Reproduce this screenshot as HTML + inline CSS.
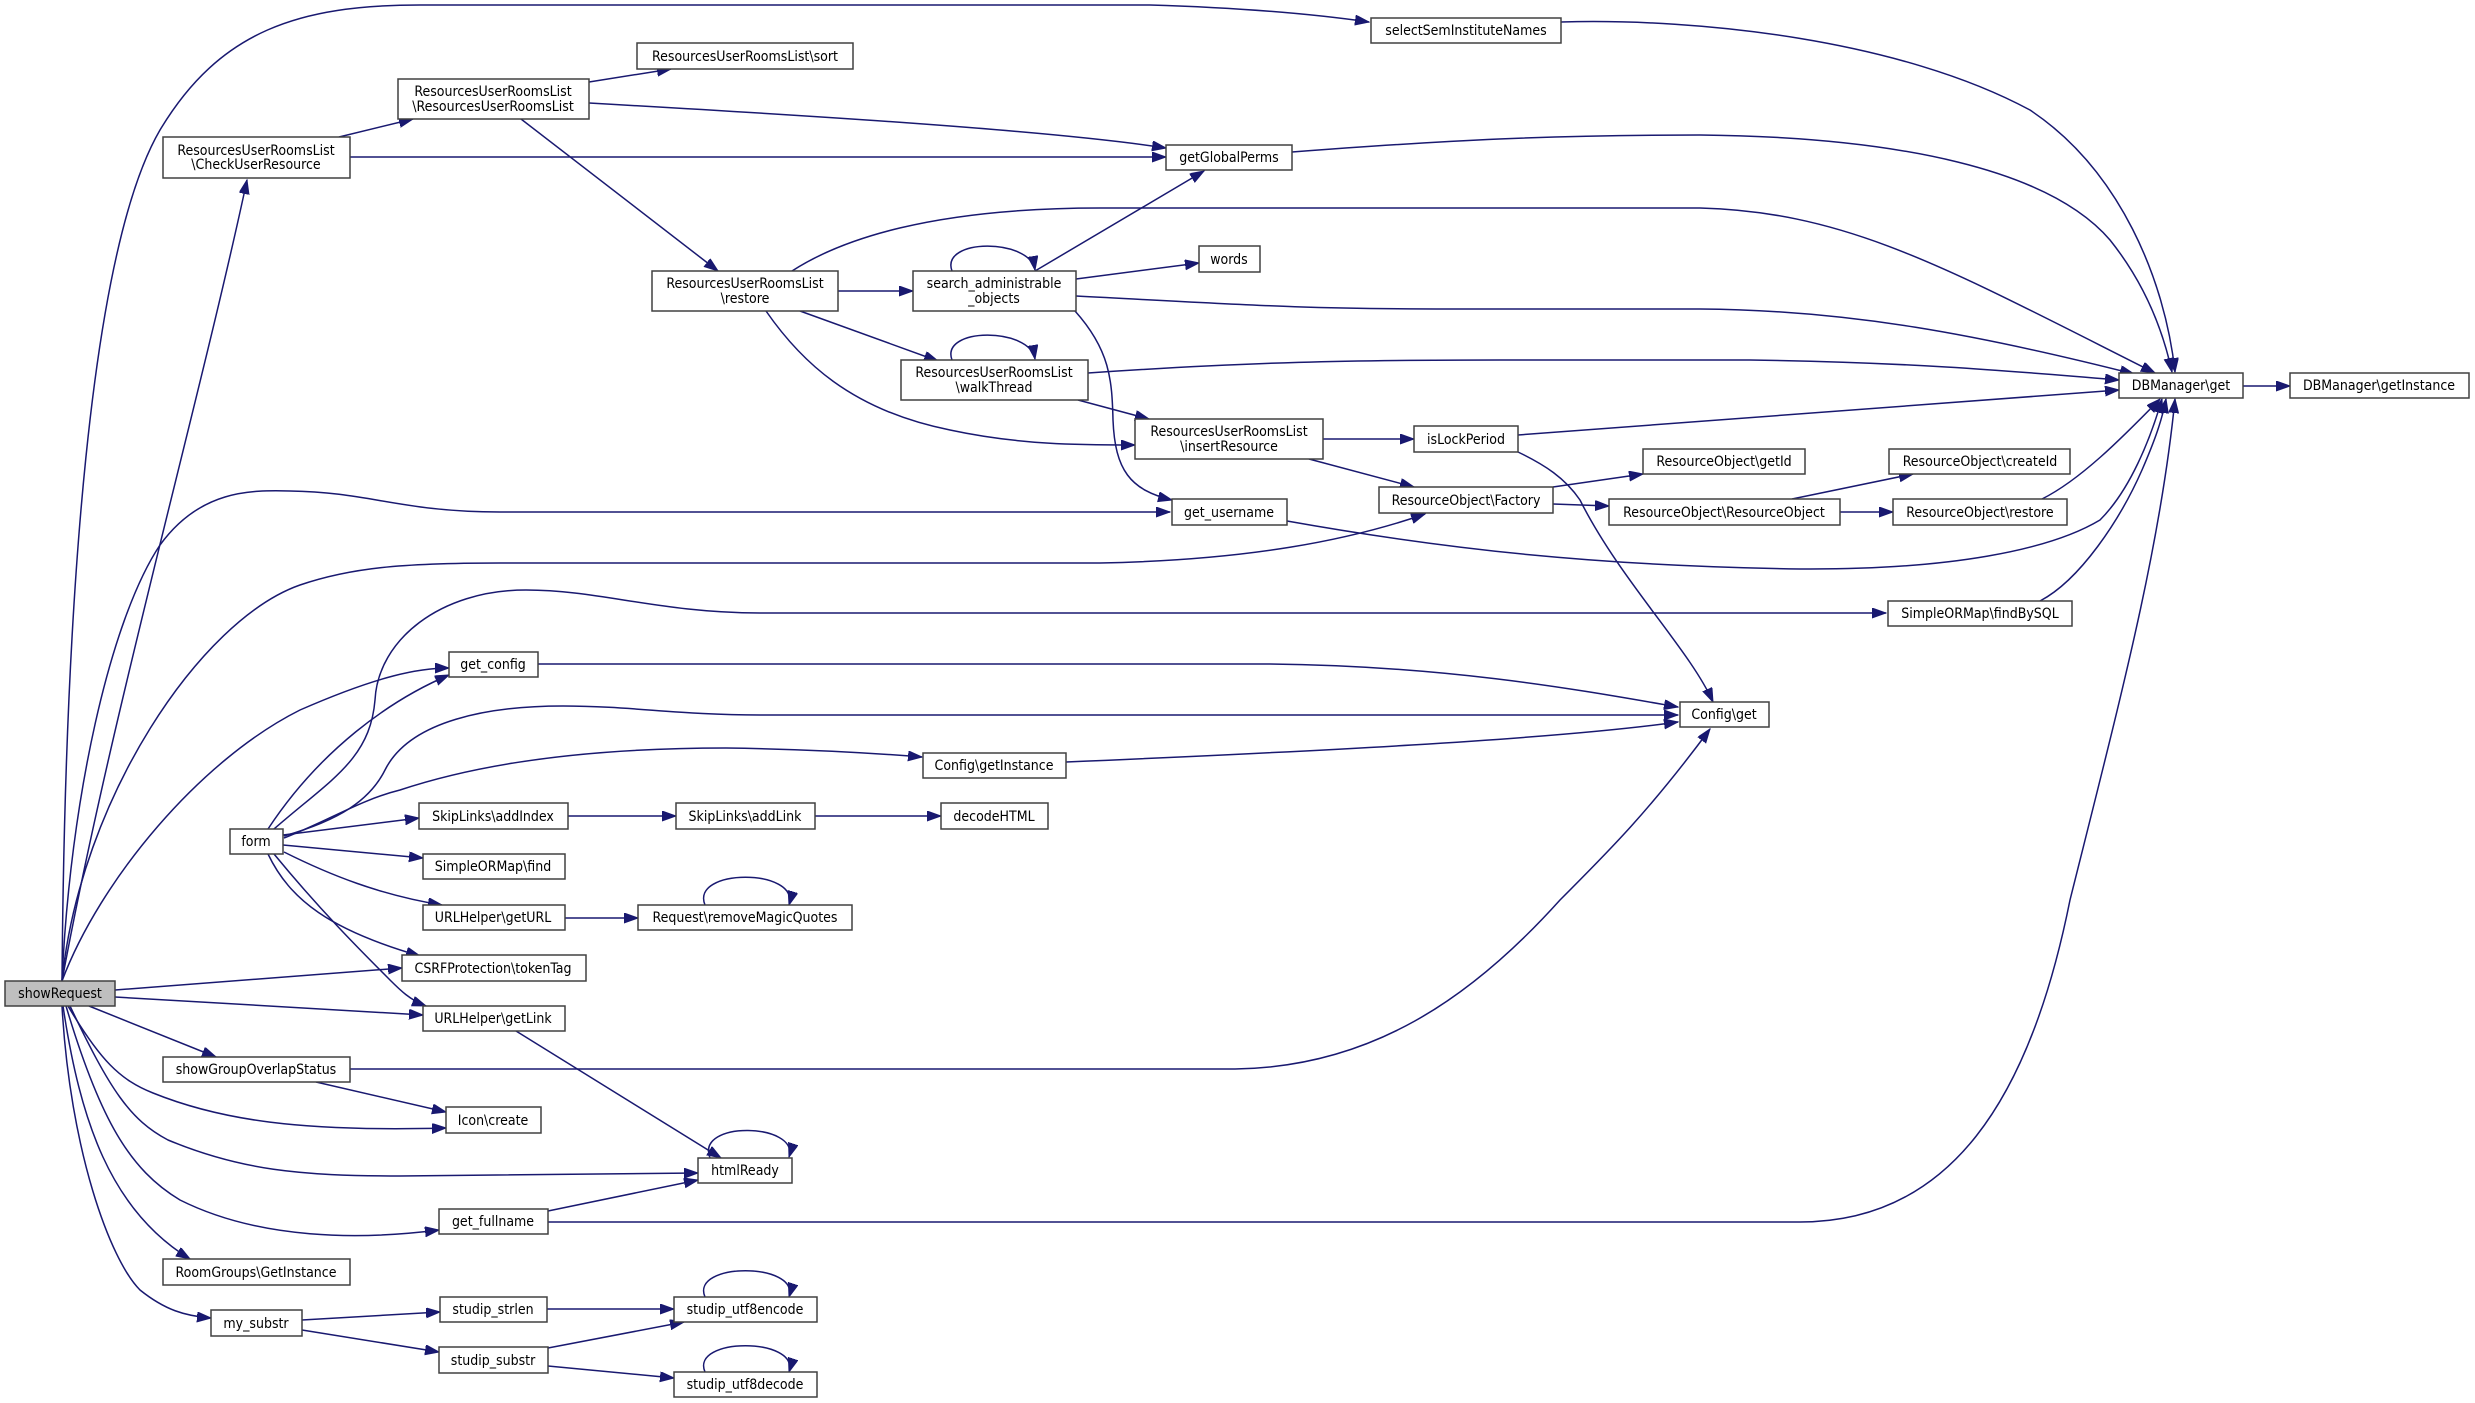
<!DOCTYPE html>
<html><head><meta charset="utf-8"><style>
html,body{margin:0;padding:0;background:#fff;}
svg{display:block;}
text{font-family:"DejaVu Sans Condensed","Liberation Sans Narrow","Liberation Sans",sans-serif;font-size:14px;fill:#000;text-anchor:middle;}
.e{fill:none;stroke:#191970;stroke-width:1.5;marker-end:url(#a);}
.l{fill:none;stroke:#191970;stroke-width:1.5;marker-end:url(#a);}
rect{fill:#fff;stroke:#404040;stroke-width:1.5;}
</style></head><body>
<svg width="2475" height="1403" viewBox="0 0 2475 1403" xmlns="http://www.w3.org/2000/svg">
<defs><marker id="a" markerUnits="userSpaceOnUse" markerWidth="15" markerHeight="11" refX="14" refY="5" orient="auto"><path d="M0,0 L14,5 L0,10 z" fill="#191970" stroke="#191970"/></marker></defs>
<g>
<path class="e" d="M62,981 C65,600 90,250 160,130 C220,30 300,5 420,5 L1150,5 C1250,8 1320,15 1369,22"/>
<path class="e" d="M62,981 C110,720 200,400 247,180"/>
<path class="e" d="M339,137 L413,119"/>
<path class="e" d="M350,157 L1166,157"/>
<path class="e" d="M589,82 L671,69"/>
<path class="e" d="M589,103 C800,115 1050,130 1166,148"/>
<path class="e" d="M521,119 L718,271"/>
<path class="e" d="M838,291 L913,291"/>
<path class="e" d="M800,311 L938,361"/>
<path class="e" d="M766,311 C800,360 850,410 950,430 C1020,445 1080,445 1135,445"/>
<path class="e" d="M792,271 C840,240 930,208 1100,208 L1700,208 C1850,212 1950,270 2155,373"/>
<path class="e" d="M952,271 C940,238 1030,238 1035,270"/>
<path class="e" d="M1035,271 L1204,171"/>
<path class="e" d="M1076,279 L1199,263"/>
<path class="e" d="M1076,296 C1250,305 1300,309 1450,309 L1700,309 C1850,310 1980,335 2134,374"/>
<path class="e" d="M1075,311 C1110,350 1112,380 1113,420 C1115,470 1130,490 1172,500"/>
<path class="e" d="M952,360 C940,327 1030,327 1035,359"/>
<path class="e" d="M1088,373 C1250,362 1350,360 1500,360 L1750,360 C1900,362 2000,370 2119,380"/>
<path class="e" d="M1078,400 L1149,419"/>
<path class="e" d="M1323,439 L1414,439"/>
<path class="e" d="M1309,459 L1414,487"/>
<path class="e" d="M1518,435 L2119,390"/>
<path class="e" d="M1518,452 C1545,465 1565,478 1580,500 C1620,580 1690,650 1713,702"/>
<path class="e" d="M1553,487 L1643,474"/>
<path class="e" d="M1553,504 L1609,506"/>
<path class="e" d="M1792,499 L1913,474"/>
<path class="e" d="M1840,512 L1893,512"/>
<path class="e" d="M2042,499 C2080,480 2120,440 2160,399"/>
<path class="e" d="M2040,601 C2080,580 2120,520 2142,470 C2155,440 2162,420 2166,399"/>
<path class="e" d="M1287,521 C1450,550 1600,566 1800,569 C1950,570 2050,550 2100,520 C2130,490 2150,440 2162,399"/>
<path class="e" d="M1292,152 C1450,140 1550,135 1700,135 C1900,137 2050,170 2110,240 C2150,290 2165,340 2172,372"/>
<path class="e" d="M1561,22 C1700,18 1900,40 2030,110 C2120,170 2165,280 2175,372"/>
<path class="e" d="M2243,386 L2290,386"/>
<path class="e" d="M62,981 C70,800 110,620 160,545 C200,490 250,490 290,491 C370,492 400,512 500,512 L1170,512"/>
<path class="e" d="M62,981 C80,800 200,620 300,585 C350,568 400,563 500,563 L1100,563 C1250,560 1350,540 1425,514"/>
<path class="e" d="M62,981 C100,880 200,760 300,710 C380,675 420,668 449,668"/>
<path class="e" d="M268,829 C320,750 390,700 449,675"/>
<path class="e" d="M274,829 C330,780 370,760 375,700 C378,640 440,590 526,590 C600,590 660,613 760,613 L1886,613"/>
<path class="e" d="M284,836 C340,820 370,800 385,770 C410,720 490,706 563,706 C630,706 680,715 760,715 L1678,715"/>
<path class="e" d="M538,664 L1270,664 C1450,666 1580,690 1678,707"/>
<path class="e" d="M284,838 C330,820 360,800 400,790 C460,770 560,748 726,748 C800,749 860,752 922,757"/>
<path class="e" d="M1066,762 C1300,752 1550,740 1678,722"/>
<path class="e" d="M283,835 L419,818"/>
<path class="e" d="M283,845 L423,858"/>
<path class="e" d="M284,852 C330,875 380,895 442,905"/>
<path class="e" d="M268,854 C290,900 330,930 420,956"/>
<path class="e" d="M274,854 C320,910 360,950 390,980 C400,990 410,1000 426,1006"/>
<path class="e" d="M568,816 L676,816"/>
<path class="e" d="M815,816 L941,816"/>
<path class="e" d="M565,918 L638,918"/>
<path class="e" d="M705,905 C690,868 800,868 789,905"/>
<path class="e" d="M115,990 L402,968"/>
<path class="e" d="M115,997 L423,1015"/>
<path class="e" d="M89,1006 L216,1057"/>
<path class="e" d="M350,1069 L1235,1069 C1370,1067 1470,1000 1560,900 C1610,850 1650,810 1710,729"/>
<path class="e" d="M316,1082 L446,1112"/>
<path class="e" d="M68,1006 C100,1060 120,1080 153,1093 C220,1120 300,1132 446,1128"/>
<path class="e" d="M70,1006 C110,1090 130,1120 168,1140 C240,1170 300,1176 400,1176 L698,1173"/>
<path class="e" d="M710,1158 C695,1120 800,1123 789,1157"/>
<path class="e" d="M516,1031 L721,1158"/>
<path class="e" d="M66,1006 C100,1120 130,1170 180,1200 C260,1240 360,1240 439,1230"/>
<path class="e" d="M548,1211 L698,1180"/>
<path class="e" d="M548,1222 L1800,1222 C1950,1222 2030,1100 2070,900 C2120,700 2160,550 2175,399"/>
<path class="e" d="M63,1006 C80,1120 110,1210 190,1259"/>
<path class="e" d="M62,1006 C70,1150 110,1260 140,1290 C165,1310 185,1316 211,1318"/>
<path class="e" d="M302,1320 L440,1312"/>
<path class="e" d="M302,1330 L439,1352"/>
<path class="e" d="M547,1309 L674,1309"/>
<path class="e" d="M548,1348 L684,1322"/>
<path class="e" d="M548,1366 L674,1378"/>
<path class="e" d="M705,1297 C690,1262 800,1262 789,1297"/>
<path class="e" d="M705,1372 C690,1337 800,1337 789,1372"/>
</g>
<g>
<rect x="5" y="981" width="110" height="25" style="fill:#bfbfbf"/><text x="60" y="998">showRequest</text>
<rect x="1371" y="18" width="190" height="25"/><text x="1466" y="35">selectSemInstituteNames</text>
<rect x="637" y="43" width="216" height="26"/><text x="745" y="61">ResourcesUserRoomsList\sort</text>
<rect x="398" y="79" width="191" height="40"/><text x="493" y="96">ResourcesUserRoomsList</text><text x="493" y="111">\ResourcesUserRoomsList</text>
<rect x="163" y="137" width="187" height="41"/><text x="256" y="155">ResourcesUserRoomsList</text><text x="256" y="169">\CheckUserResource</text>
<rect x="1166" y="145" width="126" height="25"/><text x="1229" y="162">getGlobalPerms</text>
<rect x="1199" y="246" width="61" height="26"/><text x="1229" y="264">words</text>
<rect x="652" y="271" width="186" height="40"/><text x="745" y="288">ResourcesUserRoomsList</text><text x="745" y="303">\restore</text>
<rect x="913" y="271" width="163" height="40"/><text x="994" y="288">search_administrable</text><text x="994" y="303">_objects</text>
<rect x="901" y="360" width="187" height="40"/><text x="994" y="377">ResourcesUserRoomsList</text><text x="994" y="392">\walkThread</text>
<rect x="2119" y="373" width="124" height="25"/><text x="2181" y="390">DBManager\get</text>
<rect x="2290" y="373" width="179" height="25"/><text x="2379" y="390">DBManager\getInstance</text>
<rect x="1135" y="419" width="188" height="40"/><text x="1229" y="436">ResourcesUserRoomsList</text><text x="1229" y="451">\insertResource</text>
<rect x="1414" y="426" width="104" height="26"/><text x="1466" y="444">isLockPeriod</text>
<rect x="1643" y="449" width="162" height="25"/><text x="1724" y="466">ResourceObject\getId</text>
<rect x="1889" y="449" width="181" height="25"/><text x="1980" y="466">ResourceObject\createId</text>
<rect x="1379" y="487" width="174" height="26"/><text x="1466" y="505">ResourceObject\Factory</text>
<rect x="1172" y="499" width="115" height="26"/><text x="1229" y="517">get_username</text>
<rect x="1609" y="499" width="231" height="26"/><text x="1724" y="517">ResourceObject\ResourceObject</text>
<rect x="1893" y="499" width="174" height="26"/><text x="1980" y="517">ResourceObject\restore</text>
<rect x="1888" y="601" width="184" height="25"/><text x="1980" y="618">SimpleORMap\findBySQL</text>
<rect x="449" y="652" width="89" height="25"/><text x="493" y="669">get_config</text>
<rect x="1680" y="702" width="89" height="25"/><text x="1724" y="719">Config\get</text>
<rect x="923" y="753" width="143" height="25"/><text x="994" y="770">Config\getInstance</text>
<rect x="419" y="803" width="149" height="26"/><text x="493" y="821">SkipLinks\addIndex</text>
<rect x="676" y="803" width="139" height="26"/><text x="745" y="821">SkipLinks\addLink</text>
<rect x="941" y="803" width="107" height="26"/><text x="994" y="821">decodeHTML</text>
<rect x="230" y="829" width="53" height="25"/><text x="256" y="846">form</text>
<rect x="423" y="854" width="142" height="25"/><text x="493" y="871">SimpleORMap\find</text>
<rect x="423" y="905" width="142" height="25"/><text x="493" y="922">URLHelper\getURL</text>
<rect x="638" y="905" width="214" height="25"/><text x="745" y="922">Request\removeMagicQuotes</text>
<rect x="402" y="955" width="184" height="26"/><text x="493" y="973">CSRFProtection\tokenTag</text>
<rect x="423" y="1006" width="142" height="25"/><text x="493" y="1023">URLHelper\getLink</text>
<rect x="163" y="1057" width="187" height="25"/><text x="256" y="1074">showGroupOverlapStatus</text>
<rect x="446" y="1107" width="95" height="26"/><text x="493" y="1125">Icon\create</text>
<rect x="698" y="1158" width="94" height="25"/><text x="745" y="1175">htmlReady</text>
<rect x="439" y="1209" width="109" height="25"/><text x="493" y="1226">get_fullname</text>
<rect x="163" y="1259" width="187" height="26"/><text x="256" y="1277">RoomGroups\GetInstance</text>
<rect x="440" y="1297" width="107" height="25"/><text x="493" y="1314">studip_strlen</text>
<rect x="674" y="1297" width="143" height="25"/><text x="745" y="1314">studip_utf8encode</text>
<rect x="211" y="1310" width="91" height="26"/><text x="256" y="1328">my_substr</text>
<rect x="439" y="1347" width="109" height="26"/><text x="493" y="1365">studip_substr</text>
<rect x="674" y="1372" width="143" height="25"/><text x="745" y="1389">studip_utf8decode</text>
</g>
</svg>
</body></html>
